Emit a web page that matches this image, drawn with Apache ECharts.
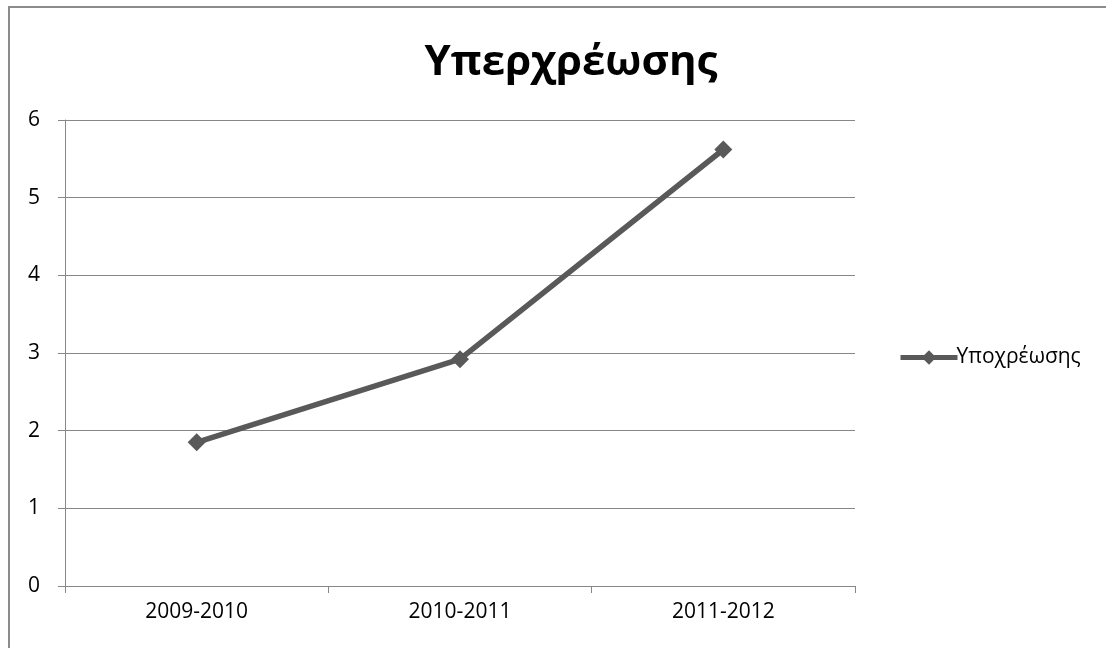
<!DOCTYPE html>
<html><head><meta charset="utf-8">
<script src="https://cdn.jsdelivr.net/npm/echarts@6/dist/echarts.min.js"></script>
<style>html,body{margin:0;padding:0;background:#fff}#c{width:1106px;height:648px}</style>
</head><body><div id="c"></div>
<script>
const titleText = 'Υπερχρέωσης';
const seriesName = 'Υποχρέωσης';
const categories = ['2009-2010', '2010-2011', '2011-2012'];
const values = [1.85, 2.92, 5.62];
const yMin = 0, yMax = 6, yStep = 1;

const chart = echarts.init(document.getElementById('c'), null, {renderer: 'canvas'});
const lineColor = '#595959';
const gridColor = '#878787';
chart.setOption({
  animation: false,
  backgroundColor: '#fff',
  title: {
    text: titleText, left: 566, top: 37, textAlign: 'center',
    textStyle: {fontFamily: 'Open Sans', fontWeight: 'bold', fontSize: 42, color: '#000'}
  },
  legend: {
    data: [seriesName], left: 893, top: 342, itemWidth: 57, itemHeight: 18, itemGap: 2,
    lineStyle: {width: 5, color: lineColor},
    textStyle: {fontFamily: 'Open Sans', fontSize: 21, color: '#000', padding: [0,0,0,-6]}
  },
  grid: {left: 65, right: 251, top: 120, bottom: 62, containLabel: false},
  xAxis: {
    type: 'category', data: categories, boundaryGap: true,
    axisLine: {lineStyle: {color: gridColor, width: 1}},
    axisTick: {show: true, length: 7, lineStyle: {color: gridColor}},
    axisLabel: {fontFamily: 'Open Sans', fontSize: 21, color: '#000', margin: 16}
  },
  yAxis: {
    type: 'value', min: yMin, max: yMax, interval: yStep,
    axisLine: {show: true, lineStyle: {color: gridColor, width: 1}},
    axisTick: {show: true, length: 7, lineStyle: {color: gridColor}},
    splitLine: {lineStyle: {color: gridColor, width: 1}},
    axisLabel: {fontFamily: 'Open Sans', fontSize: 21, color: '#000', margin: 25}
  },
  series: [{
    name: seriesName, type: 'line', data: values,
    symbol: 'diamond', symbolSize: 18,
    lineStyle: {color: lineColor, width: 5.5},
    itemStyle: {color: lineColor}
  }],
  graphic: [{
    type: 'rect', shape: {x: 9, y: 7, width: 1200, height: 800},
    style: {fill: 'none', stroke: '#8c8c8c', lineWidth: 2}, silent: true
  }]
});
</script></body></html>
